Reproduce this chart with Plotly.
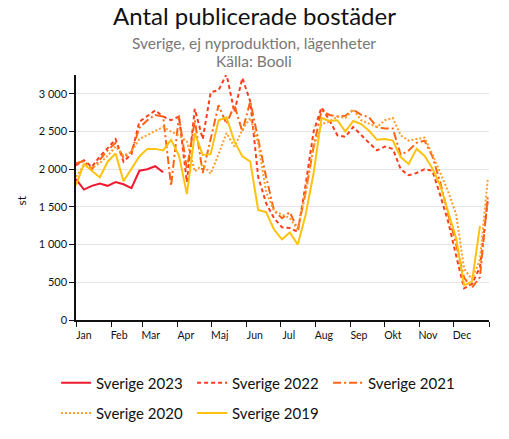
import pandas as pd
import plotly.graph_objects as go

# weekly data, one value per week (53 weeks)
weeks = pd.date_range('2023-01-01', periods=53, freq='7D')

sverige_2023 = [1870, 1730, 1780, 1810, 1780, 1830, 1800, 1750, 1980, 2000, 2040, 1960]

sverige_2022 = [2050, 2120, 2030, 2170, 2280, 2400, 2100, 2200, 2630, 2700, 2780, 2700,
                2650, 2700, 1830, 2800, 2400, 3020, 3050, 3260, 2760, 3210, 2900, 1900,
                1550, 1350, 1230, 1220, 1170, 1800, 2500, 2820, 2650, 2450, 2430, 2560,
                2450, 2350, 2250, 2300, 2270, 2000, 1920, 1950, 2000, 1980, 1650, 1300,
                850, 420, 480, 700, 1600]

sverige_2021 = [2080, 2110, 2000, 2130, 2250, 2350, 2150, 2230, 2550, 2650, 2720, 2700,
                1780, 2700, 2000, 2650, 1950, 2400, 2850, 2600, 2850, 2500, 2900, 2400,
                1900, 1450, 1350, 1430, 1200, 1700, 2300, 2780, 2720, 2700, 2710, 2790,
                2720, 2690, 2560, 2540, 2540, 2190, 2250, 2350, 2380, 2170, 1820, 1400,
                1000, 560, 430, 570, 1650]

sverige_2020 = [1900, 2050, 2020, 2080, 2180, 2300, 2180, 2230, 2400, 2450, 2500, 2560,
                2500, 2450, 2370, 1970, 2060, 1940, 2200, 2480, 2300, 2520, 2680, 2350,
                1700, 1450, 1400, 1350, 1200, 1700, 2300, 2600, 2630, 2700, 2680, 2790,
                2650, 2600, 2560, 2650, 2680, 2450, 2380, 2400, 2420, 2200, 1950, 1700,
                1400, 680, 540, 800, 1880]

sverige_2019 = [1790, 2070, 1980, 1890, 2100, 2210, 1840, 2010, 2170, 2270, 2270, 2250,
                2390, 2180, 1670, 2480, 2190, 2200, 2650, 2690, 2370, 2170, 2100, 1460,
                1430, 1200, 1070, 1160, 1000, 1400, 1950, 2680, 2640, 2650, 2500, 2640,
                2600, 2510, 2390, 2400, 2380, 2160, 2070, 2270, 2180, 2010, 1780, 1430,
                1080, 460, 510, 1250, None]

month_starts = pd.date_range('2023-01-01', periods=13, freq='MS')
month_labels = ['Jan', 'Feb', 'Mar', 'Apr', 'Maj', 'Jun', 'Jul', 'Aug', 'Sep', 'Okt', 'Nov', 'Dec', '']

fig = go.Figure()

series = [
    ('Sverige 2023', sverige_2023, '#f0192f', 'solid', 'legend'),
    ('Sverige 2022', sverige_2022, '#ff3d1c', '4px,3px', 'legend'),
    ('Sverige 2021', sverige_2021, '#ff6414', '8px,3px,2px,3px', 'legend'),
    ('Sverige 2020', sverige_2020, '#ff9c2a', '2px,2px', 'legend2'),
    ('Sverige 2019', sverige_2019, '#ffc20e', 'solid', 'legend2'),
]

for name, vals, color, dash, leg in series:
    fig.add_trace(go.Scatter(
        x=weeks[:len(vals)],
        y=vals,
        mode='lines',
        name=name,
        line=dict(color=color, width=2, dash=dash),
        legend=leg
    ))

# the page adds an 8px body margin, so the figure is 8px smaller than the window
legend_style = dict(orientation='h', xref='container', yref='container',
                    x=0.096, xanchor='left', yanchor='middle',
                    entrywidth=91, entrywidthmode='pixels',
                    font=dict(size=15, color='#111'))

fig.update_layout(
    width=501,
    height=431,
    margin=dict(l=68, r=20, t=67, b=119, autoexpand=False),
    paper_bgcolor='white',
    plot_bgcolor='white',
    font=dict(family='Lato', color='#111'),
    separators=', ',
    title=dict(text='Antal publicerade bostäder', x=0.492, xanchor='center',
               y=1, yanchor='top', pad=dict(t=0, b=0),
               font=dict(size=24, color='#111')),
    legend=dict(legend_style, y=0.130),
    legend2=dict(legend_style, y=0.060),
    annotations=[
        dict(text='Sverige, ej nyproduktion, lägenheter', xref='paper', yref='paper',
             x=0.431, y=1.131, yanchor='middle', showarrow=False,
             font=dict(size=15.5, color='#777')),
        dict(text='Källa: Booli', xref='paper', yref='paper',
             x=0.431, y=1.057, yanchor='middle', showarrow=False,
             font=dict(size=15.5, color='#777')),
        dict(text='st', xref='paper', yref='paper', x=-0.155, y=0.49,
             textangle=-90, showarrow=False, font=dict(size=12, color='#111')),
    ]
)

fig.update_xaxes(
    range=['2023-01-01', '2024-01-01'],
    tickmode='array',
    tickvals=month_starts,
    ticktext=month_labels,
    ticklabelshift=8,
    ticks='outside', ticklen=5, tickcolor='#111',
    showline=True, linecolor='#111', linewidth=1.5,
    showgrid=False,
    tickfont=dict(size=10.5, color='#111')
)

fig.update_yaxes(
    range=[0, 3250],
    tickvals=[0, 500, 1000, 1500, 2000, 2500, 3000],
    tickformat=',d',
    ticks='outside', ticklen=5, tickcolor='#111',
    showline=True, linecolor='#111', linewidth=1.5,
    showgrid=True, gridcolor='#e5e5e5', gridwidth=1,
    zeroline=False,
    tickfont=dict(size=11, color='#111')
)

fig.write_html('out.html')
